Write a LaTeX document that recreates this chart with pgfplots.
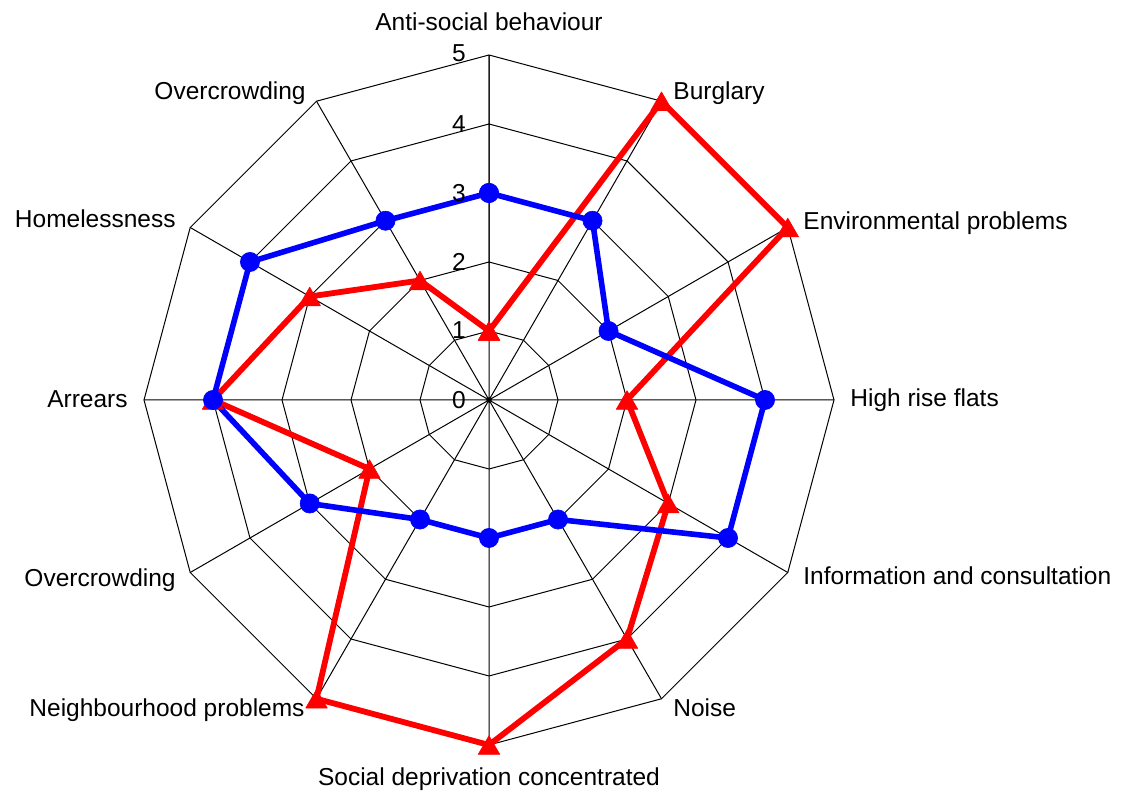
\documentclass[border=0pt]{standalone}
\usepackage{pgfplots}
\pgfplotsset{compat=1.18}
\usepackage{pgfplotstable}
\usepackage{fontspec}
\setmainfont{Liberation Sans}

% angle (deg), value
\pgfplotstableread{
a v
90 3
60 3
30 2
0 4
-30 4
-60 2
-90 2
-120 2
-150 3
180 4
150 4
120 3
90 3
}\bluedata
\pgfplotstableread{
a v
90 1
60 5
30 5
0 2
-30 3
-60 4
-90 5
-120 5
-150 2
180 4
150 3
120 2
90 1
}\reddata
% polygon rings 1..5
\pgfplotstableread{
a v
90 1
60 1
30 1
0 1
-30 1
-60 1
-90 1
-120 1
-150 1
180 1
150 1
120 1
90 1
90 2
60 2
30 2
0 2
-30 2
-60 2
-90 2
-120 2
-150 2
180 2
150 2
120 2
90 2
90 3
60 3
30 3
0 3
-30 3
-60 3
-90 3
-120 3
-150 3
180 3
150 3
120 3
90 3
90 4
60 4
30 4
0 4
-30 4
-60 4
-90 4
-120 4
-150 4
180 4
150 4
120 4
90 4
90 5
60 5
30 5
0 5
-30 5
-60 5
-90 5
-120 5
-150 5
180 5
150 5
120 5
90 5
}\rings
% spokes (star through the centre)
\pgfplotstableread{
a v
90 5
90 0
60 5
60 0
30 5
30 0
0 5
0 0
-30 5
-30 0
-60 5
-60 0
-90 5
-90 0
-120 5
-120 0
-150 5
-150 0
180 5
180 0
150 5
150 0
120 5
120 0
}\spokes

\begin{document}
\begin{tikzpicture}
\begin{axis}[
  scale only axis,
  width=561pt, height=396.5pt,
  xmin=-7.087, xmax=9.174,
  ymin=-5.696, ymax=5.797,
  hide axis,
  clip=false,
  every axis plot/.append style={line join=round},
]
\path (rel axis cs:0,0) rectangle (rel axis cs:1,1);
\addplot[black, line width=0.5pt, no marks] table[x expr={\thisrow{v}*cos(\thisrow{a})}, y expr={\thisrow{v}*sin(\thisrow{a})}] {\rings};
\addplot[black, line width=0.5pt, no marks] table[x expr={\thisrow{v}*cos(\thisrow{a})}, y expr={\thisrow{v}*sin(\thisrow{a})}] {\spokes};

\addplot[red, line width=2.9pt, mark=triangle*, mark size=6.2pt,
  mark options={solid, fill=red, draw=red, line width=0.3pt, yshift=-1.55pt}]
  table[x expr={\thisrow{v}*cos(\thisrow{a})}, y expr={\thisrow{v}*sin(\thisrow{a})}] {\reddata};
\addplot[blue, line width=2.8pt, mark=*, mark size=4.8pt,
  mark options={solid, fill=blue, draw=blue, line width=0.3pt}]
  table[x expr={\thisrow{v}*cos(\thisrow{a})}, y expr={\thisrow{v}*sin(\thisrow{a})}] {\bluedata};

\begin{scope}[every node/.style={inner sep=0pt, font=\fontsize{12.25}{14}\selectfont}]
\node[anchor=base] at (axis cs:0,5.362) {Anti-social behaviour};
\node[anchor=base west] at (axis cs:2.667,4.362) {Burglary};
\node[anchor=base west] at (axis cs:4.551,2.478) {Environmental problems};
\node[anchor=base west] at (axis cs:5.232,-0.101) {High rise flats};
\node[anchor=base west] at (axis cs:4.551,-2.681) {Information and consultation};
\node[anchor=base west] at (axis cs:2.667,-4.580) {Noise};
\node[anchor=base] at (axis cs:0,-5.594) {Social deprivation concentrated};
\node[anchor=base east] at (axis cs:-2.667,-4.580) {Neighbourhood problems};
\node[anchor=base east] at (axis cs:-4.536,-2.710) {Overcrowding};
\node[anchor=base east] at (axis cs:-5.232,-0.116) {Arrears};
\node[anchor=base east] at (axis cs:-4.536,2.493) {Homelessness};
\node[anchor=base east] at (axis cs:-2.652,4.348) {Overcrowding};
\node at (axis cs:-0.435,0) {0};
\node at (axis cs:-0.435,1.01) {1};
\node at (axis cs:-0.435,2) {2};
\node at (axis cs:-0.435,3) {3};
\node at (axis cs:-0.435,4) {4};
\node at (axis cs:-0.435,5.03) {5};
\end{scope}
\end{axis}
\end{tikzpicture}
\end{document}
